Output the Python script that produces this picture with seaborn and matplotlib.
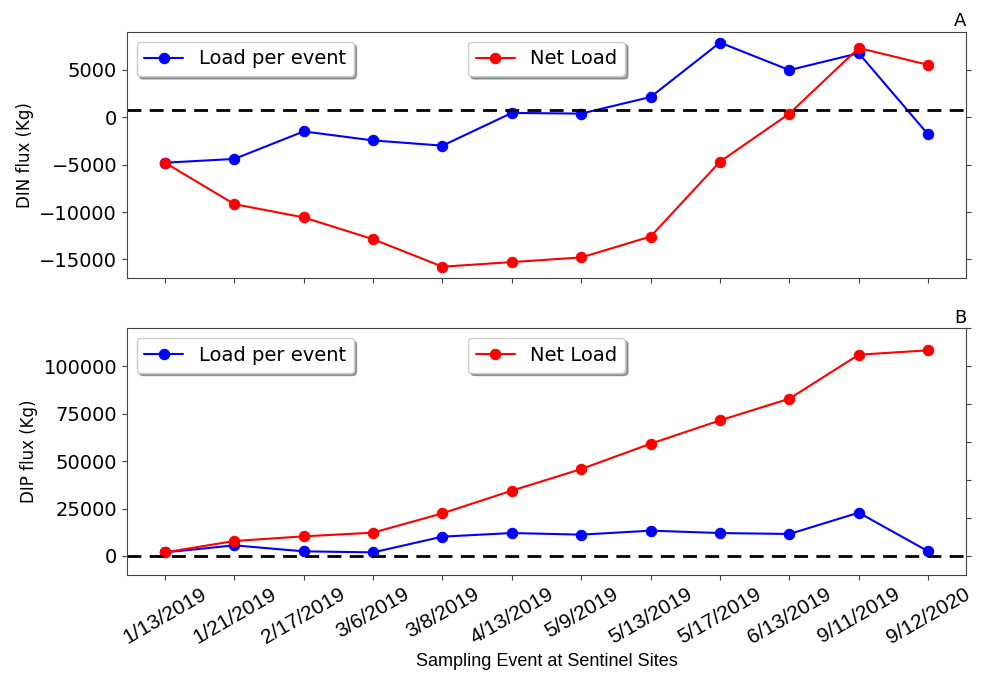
import numpy as np
import pandas as pd
import matplotlib
matplotlib.use("Agg")
import matplotlib.pyplot as plt
import seaborn as sns
from matplotlib.ticker import MultipleLocator

# Sampling events
events = ["1/13/2019", "1/21/2019", "2/17/2019", "3/6/2019", "3/8/2019", "4/13/2019",
          "5/9/2019", "5/13/2019", "5/17/2019", "6/13/2019", "9/11/2019", "9/12/2020"]

# DIN flux (Kg)
din_load = [-4800, -4400, -1500, -2450, -3000, 450, 380, 2130, 7870, 4970, 6750, -1820]
din_net = [-4800, -9170, -10570, -12870, -15770, -15280, -14790, -12590, -4690, 380, 7300, 5520]
din_ref = 800

# DIP flux (Kg)
dip_load = [1900, 5600, 2450, 1900, 10200, 12100, 11250, 13350, 12100, 11600, 22850, 2450]
dip_net = [1900, 7900, 10350, 12300, 22500, 34450, 45850, 59200, 71500, 82950, 106150, 108450]
dip_ref = 0

sns.set_style("ticks")
plt.rcParams["font.family"] = ["DejaVu Sans"]
plt.rcParams["text.color"] = "black"
plt.rcParams["axes.labelcolor"] = "black"
plt.rcParams["xtick.color"] = "#444444"
plt.rcParams["ytick.color"] = "#444444"
plt.rcParams["xtick.labelcolor"] = "black"
plt.rcParams["ytick.labelcolor"] = "black"

fig, (ax1, ax2) = plt.subplots(2, 1, figsize=(9.83, 6.78), dpi=100, sharex=True)
fig.subplots_adjust(left=0.129, right=0.983, top=0.953, bottom=0.152, hspace=0.203)

panels = [
    (ax1, din_load, din_net, din_ref, "DIN flux (Kg)", "A", (-17000, 9000), 5000),
    (ax2, dip_load, dip_net, dip_ref, "DIP flux (Kg)", "B", (-10000, 120000), 20000),
]

for ax, load, net, ref, ylab, tag, ylim, right_step in panels:
    df = pd.DataFrame({"event": events, "load": load, "net": net})
    sns.lineplot(data=df, x="event", y="load", ax=ax, color="blue", marker="o",
                 markersize=7.5, markeredgecolor="blue", linewidth=1.5, sort=False)
    sns.lineplot(data=df, x="event", y="net", ax=ax, color="red", marker="o",
                 markersize=7.5, markeredgecolor="red", linewidth=1.5, sort=False)
    ax.axhline(ref, color="black", linestyle="--", linewidth=2, dashes=(5, 3))
    ax.set_ylim(*ylim)
    ax.set_ylabel(ylab, fontsize=12)
    ax.set_xlabel("")
    ax.set_title(tag, loc="right", fontsize=13, pad=4)
    ax.tick_params(axis="both", labelsize=14)
    for s in ax.spines.values():
        s.set_color("#444444")

    lines = ax.get_lines()
    leg1 = ax.legend([lines[0]], ["Load per event"], loc="upper left", fontsize=14,
                     shadow=True, framealpha=1, edgecolor="#cccccc")
    ax.add_artist(leg1)
    ax.legend([lines[1]], ["Net Load"], loc="upper center", fontsize=14,
              shadow=True, framealpha=1, edgecolor="#cccccc")

    # right-hand tick marks
    twin = ax.twinx()
    twin.set_ylim(*ylim)
    twin.yaxis.set_major_locator(MultipleLocator(right_step))
    twin.tick_params(axis="y", labelright=False)
    for s in twin.spines.values():
        s.set_visible(False)

ax1.tick_params(axis="x", labelbottom=False)
ax2.set_xticks(range(len(events)))
ax2.set_xticklabels(events, rotation=30, fontsize=15, family="Liberation Sans")
ax2.set_xlabel("Sampling Event at Sentinel Sites", fontsize=13, family="Liberation Sans")

plt.savefig("out.png", dpi=100)
plt.close()
